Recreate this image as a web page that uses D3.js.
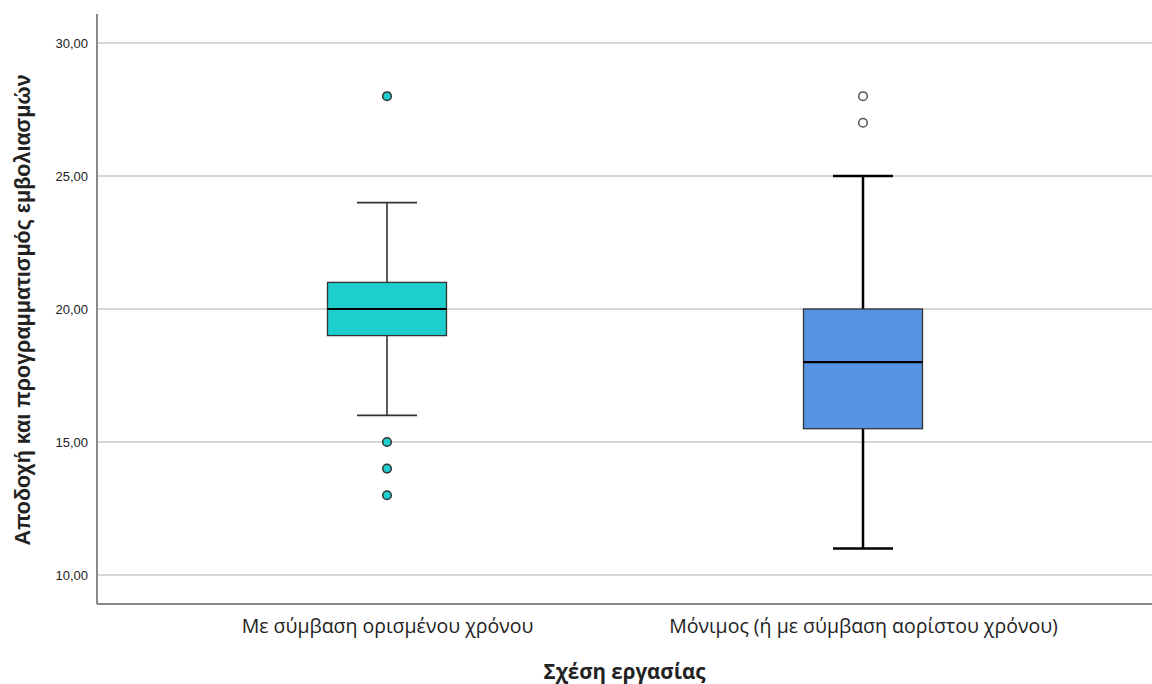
<!DOCTYPE html>
<html>
<head>
<meta charset="utf-8">
<script src="https://cdn.jsdelivr.net/npm/d3@7"></script>
<style>
body{margin:0;background:#fff;}
</style>
</head>
<body>
<div id="chart"></div>
<script>
// data
var categories = ["Με σύμβαση ορισμένου χρόνου", "Μόνιμος (ή με σύμβαση αορίστου χρόνου)"];
var q1 = [19, 15.5];
var medians = [20, 18];
var q3 = [21, 20];
var whiskLow = [16, 11];
var whiskHigh = [24, 25];
var outliers = [[28, 15, 14, 13], [28, 27]];
var yTicks = [10, 15, 20, 25, 30];
var colors = ["#1ecece", "#5494e2"];

var width = 1152, height = 684;
var svg = d3.select("#chart").append("svg")
.attr("width", width).attr("height", height);

var y = d3.scaleLinear().domain([8.91, 31.09]).range([604, 14]);
var x = d3.scalePoint().domain(categories).range([149, 1101]).padding(0.5);
var boxW = 119, capW = 60;

// grid lines
svg.append("g").selectAll("line").data(yTicks).enter().append("line")
.attr("x1", 97).attr("x2", width)
.attr("y1", d => y(d)).attr("y2", d => y(d))
.attr("stroke", "#c8c8c8").attr("stroke-width", 1.5);

// y axis
var yAxis = svg.append("g").attr("transform", "translate(97,0)")
.call(d3.axisLeft(y).tickValues(yTicks).tickSize(0).tickPadding(9)
  .tickFormat(d => d3.format(".2f")(d).replace(".", ",")));
yAxis.select(".domain").remove();
yAxis.selectAll("text").attr("font-family", "Liberation Sans, Arial, sans-serif")
.attr("font-size", 13).attr("fill", "#222");

// axis lines
svg.append("line").attr("x1", 97).attr("x2", 97).attr("y1", 14).attr("y2", 604)
.attr("stroke", "#888").attr("stroke-width", 2);
svg.append("line").attr("x1", 97).attr("x2", width).attr("y1", 604).attr("y2", 604)
.attr("stroke", "#888").attr("stroke-width", 2);

// x axis labels
var xAxis = svg.append("g").attr("transform", "translate(0,604)")
.call(d3.axisBottom(x).tickSize(0).tickPadding(15));
xAxis.select(".domain").remove();
xAxis.selectAll("text").attr("font-family", "Open Sans, Noto Sans, sans-serif")
.attr("font-size", 19.5).attr("fill", "#222");

// boxes
var boxes = svg.selectAll(".box").data(categories).enter().append("g").attr("class", "box");
var whiskStroke = ["#333", "#000"], whiskWidth = [1.6, 2.5];

boxes.append("line")
.attr("x1", d => x(d)).attr("x2", d => x(d))
.attr("y1", (d, i) => y(whiskHigh[i])).attr("y2", (d, i) => y(whiskLow[i]))
.attr("stroke", (d, i) => whiskStroke[i]).attr("stroke-width", (d, i) => whiskWidth[i]);
boxes.append("line")
.attr("x1", d => x(d) - capW / 2).attr("x2", d => x(d) + capW / 2)
.attr("y1", (d, i) => y(whiskHigh[i])).attr("y2", (d, i) => y(whiskHigh[i]))
.attr("stroke", (d, i) => whiskStroke[i]).attr("stroke-width", (d, i) => whiskWidth[i]);
boxes.append("line")
.attr("x1", d => x(d) - capW / 2).attr("x2", d => x(d) + capW / 2)
.attr("y1", (d, i) => y(whiskLow[i])).attr("y2", (d, i) => y(whiskLow[i]))
.attr("stroke", (d, i) => whiskStroke[i]).attr("stroke-width", (d, i) => whiskWidth[i]);

boxes.append("rect")
.attr("x", d => x(d) - boxW / 2).attr("width", boxW)
.attr("y", (d, i) => y(q3[i])).attr("height", (d, i) => y(q1[i]) - y(q3[i]))
.attr("fill", (d, i) => colors[i]).attr("stroke", "#333").attr("stroke-width", 1.3);

boxes.append("line")
.attr("x1", d => x(d) - boxW / 2).attr("x2", d => x(d) + boxW / 2)
.attr("y1", (d, i) => y(medians[i])).attr("y2", (d, i) => y(medians[i]))
.attr("stroke", "#000").attr("stroke-width", 2.2);

// outliers
var outFill = [colors[0], "#fff"], outStroke = ["#333", "#555"];
boxes.each(function(d, i) {
  d3.select(this).selectAll("circle").data(outliers[i]).enter().append("circle")
  .attr("cx", x(d)).attr("cy", v => y(v)).attr("r", 4.3)
  .attr("fill", outFill[i]).attr("stroke", outStroke[i]).attr("stroke-width", 1.5);
});

// titles
svg.append("text").text("Σχέση εργασίας")
.attr("x", (97 + width) / 2).attr("y", 679).attr("text-anchor", "middle")
.attr("font-family", "Open Sans, Noto Sans, sans-serif").attr("font-weight", "bold")
.attr("font-size", 20.5).attr("fill", "#222");

svg.append("text").text("Αποδοχή και προγραμματισμός εμβολιασμών")
.attr("transform", "translate(30,310)rotate(-90)").attr("text-anchor", "middle")
.attr("font-family", "Liberation Sans, Arial, sans-serif").attr("font-weight", "bold")
.attr("font-size", 21.5).attr("fill", "#222");
</script>
</body>
</html>
